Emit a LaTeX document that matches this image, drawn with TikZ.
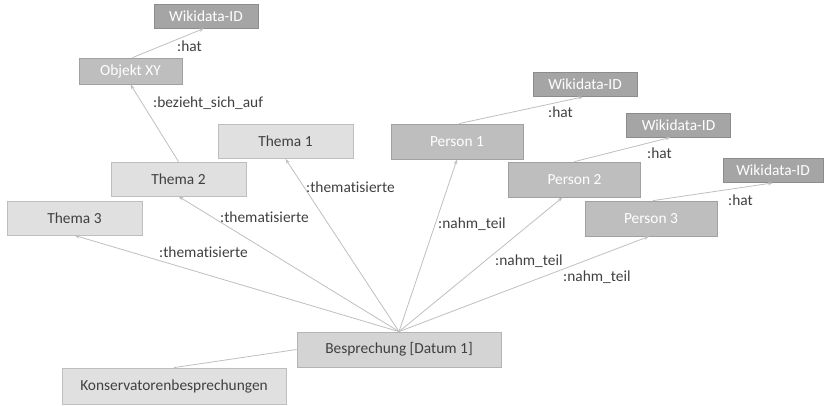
\documentclass[tikz,border=0pt]{standalone}
\usepackage{fontspec}
\setmainfont{Carlito}[Ligatures=NoCommon]
\usepackage{xcolor}
\usepackage{tikz}
\usetikzlibrary{arrows.meta}
\definecolor{txtgray}{HTML}{404040}
\definecolor{linegray}{HTML}{BFBFBF}
\definecolor{themafill}{HTML}{E0E0E0}
\definecolor{personfill}{HTML}{BEBEBE}
\definecolor{wikifill}{HTML}{A5A5A5}
\definecolor{meetfill}{HTML}{D4D4D4}

\begin{document}
\begin{tikzpicture}[x=1pt,y=-1pt,
    >={Stealth[length=5pt,width=3.5pt]},
    every node/.style={font=\fontsize{15.4}{18}\selectfont},
    box/.style={draw=#1!85!black,line width=0.8pt,inner sep=0pt,text=txtgray},
    thema/.style={box=themafill,fill=themafill,minimum width=135pt,minimum height=34pt},
    person/.style={box=personfill,fill=personfill,text=white,minimum width=132pt,minimum height=35pt},
    wiki/.style={box=wikifill,fill=wikifill,text=white,minimum width=104pt,minimum height=24pt},
    rel/.style={anchor=west,inner sep=0pt,text=txtgray},
    link/.style={draw=linegray,line width=0.8pt}]
                \useasboundingbox (0,0) rectangle (824,405);
                \node[thema] (t1) at (285.5,141.5) {Thema 1};
                \node[thema] (t2) at (178.5,179) {Thema 2};
                \node[thema] (t3) at (74.5,218) {Thema 3};
                \node[person] (p1) at (457,141.5) {Person 1};
                \node[person] (p2) at (574.5,179.5) {Person 2};
                \node[person] (p3) at (651,218.5) {Person 3};
                \node[wiki] (w0) at (206,16) {Wikidata-ID};
                \node[wiki] (w1) at (585,84.5) {Wikidata-ID};
                \node[wiki] (w2) at (678.5,125) {Wikidata-ID};
                \node[wiki,minimum width=100pt] (w3) at (773,170.5) {Wikidata-ID};
                \node[person,minimum width=103pt,minimum height=26pt] (obj) at (130.5,71) {Objekt XY};
                \node[box=meetfill,fill=meetfill,minimum width=204pt,minimum height=35pt] (meet) at (399,349.5) {Besprechung [Datum 1]};
                \node[thema,minimum width=224pt,minimum height=36pt] (kons) at (174,386) {Konservatorenbesprechungen};
                % Kanten
                \draw[link,->] (meet.north) -- (t1.south);
                \draw[link,->] (meet.north) -- (t2.south);
                \draw[link,->] (meet.north) -- (t3.south);
                \draw[link,->] (meet.north) -- (p1.south);
                \draw[link,->] (meet.north) -- ([xshift=-12pt]p2.south);
                \draw[link,->] (meet.north) -- ([xshift=-2pt]p3.south);
                \draw[link] (meet.west) -- (kons.north);
                \draw[link,->] (t2.north) -- (obj.south);
                \draw[link,->] ([xshift=2pt]obj.north) -- ([xshift=-2pt]w0.south);
                \draw[link,->] ([xshift=2pt]p1.north) -- ([xshift=-2pt]w1.south);
                \draw[link,->] (p2.north) -- ([xshift=-8pt]w2.south);
                \draw[link,->] ([xshift=2pt]p3.north) -- (w3.south);
                % Beschriftungen
                \node[rel] (lh0) at (177,46) {:hat};
                \node[rel] (lbez) at (153,103) {:bezieht\_sich\_auf};
                \node[rel] (lt1) at (306,187) {:thematisierte};
                \node[rel] (lt2) at (220,217) {:thematisierte};
                \node[rel] (lt3) at (159,252) {:thematisierte};
                \node[rel] (ln1) at (438,224) {:nahm\_teil};
                \node[rel] (ln2) at (495,261) {:nahm\_teil};
                \node[rel] (ln3) at (563,277) {:nahm\_teil};
                \node[rel] (lh1) at (548,112) {:hat};
                \node[rel] (lh2) at (647,153) {:hat};
                \node[rel] (lh3) at (728,200) {:hat};
            \end{tikzpicture}
\end{document}
